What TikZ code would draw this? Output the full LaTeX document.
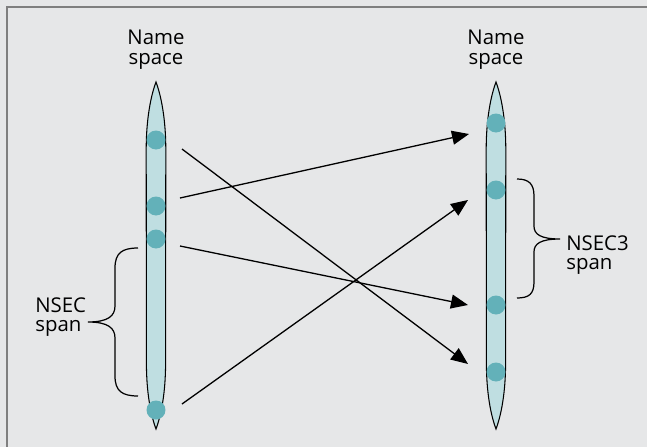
\documentclass[tikz,border=0pt]{standalone}
\usepackage{fontspec}
\setmainfont{Open Sans}
\usetikzlibrary{arrows.meta}
\definecolor{panelgray}{HTML}{E6E7E8}
\definecolor{framegray}{HTML}{7F7F7F}
\definecolor{spacefill}{HTML}{BFDEE1}
\definecolor{dotteal}{HTML}{63B1B9}
\tikzset{
  key/.style={circle, fill=dotteal, inner sep=0pt, minimum size=0.38cm},
  lbl/.style={inner sep=0pt, font=\fontsize{11.6pt}{11.3pt}\selectfont},
  link/.style={-{Triangle[length=0.34cm,width=0.28cm]}, line width=0.74pt},
  span/.style={line width=0.7pt}
}
\begin{document}
\begin{tikzpicture}[x=0.02cm, y=-0.02cm]
  \useasboundingbox (0,0) rectangle (647,447);
  \fill[panelgray] (0,0) rectangle (647,447);
  \draw[framegray, line width=1.2pt] (7,447) -- (7,7) -- (647,7);
  % the two name spaces
  \foreach \cx in {156,496}
    \draw[fill=spacefill, line width=0.6pt] (\cx,82)
      .. controls (\cx+3,90) and (\cx+9.8,112) .. (\cx+9.8,150) -- (\cx+9.6,362)
      .. controls (\cx+9.6,400) and (\cx+3,421) .. (\cx,429)
      .. controls (\cx-3,421) and (\cx-9.6,400) .. (\cx-9.6,362) -- (\cx-9.8,150)
      .. controls (\cx-9.8,112) and (\cx-3,90) .. cycle;
  \node[lbl, align=center] (lname) at (156,50) {Name\\space};
  \node[lbl, align=center] (rname) at (496,50) {Name\\space};
  % records
  \node[key] (l1) at (156,140) {};
  \node[key] (l2) at (156,206) {};
  \node[key] (l3) at (156,239) {};
  \node[key] (l4) at (156,410) {};
  \node[key] (r1) at (496,123) {};
  \node[key] (r2) at (496,190) {};
  \node[key] (r3) at (496,305) {};
  \node[key] (r4) at (496,372) {};
  % spans
  \draw[span] (138,248) .. controls (122,248) and (115,253) .. (115,268) -- (115,306)
    .. controls (115,316) and (108,322) .. (88,322)
    .. controls (108,322) and (115,328) .. (115,338) -- (115,376)
    .. controls (115,391) and (122,396) .. (138,396);
  \node[lbl, align=left, anchor=west] (nsec) at (35,317) {NSEC\\span};
  \draw[span] (517,179) .. controls (529,179) and (534,184) .. (534,196) -- (534,226)
    .. controls (534,234) and (540,239) .. (560,239)
    .. controls (540,239) and (534,244) .. (534,252) -- (534,282)
    .. controls (534,294) and (529,298) .. (517,298);
  \node[lbl, align=left, anchor=west] (nsec3) at (566,255) {NSEC3\\span};
  % hashing
  \draw[link] ([shift={(26,9)}]l1.center) -- ([shift={(-28,-8)}]r4.center);
  \draw[link] ([shift={(24,-8)}]l2.center) -- ([shift={(-27,11)}]r1.center);
  \draw[link] ([shift={(24,7)}]l3.center) -- ([shift={(-28,0)}]r3.center);
  \draw[link] ([shift={(26,-6)}]l4.center) -- ([shift={(-28,10)}]r2.center);
\end{tikzpicture}
\end{document}
